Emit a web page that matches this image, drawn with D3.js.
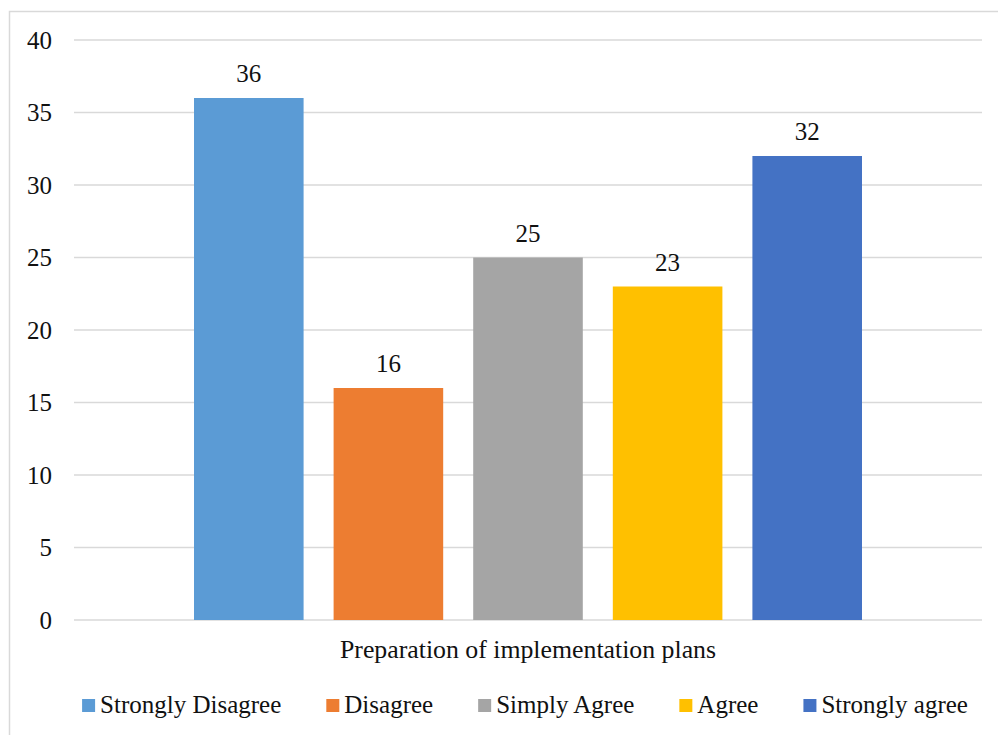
<!DOCTYPE html>
<html>
<head>
<meta charset="utf-8">
<script src="https://cdn.jsdelivr.net/npm/d3@7"></script>
<style>
  body { margin: 0; background: #fff; }
  svg { display: block; font-family: "Liberation Serif", "DejaVu Serif", serif; }
</style>
</head>
<body>
<div id="chart"></div>
<script>
// data
var category = "Preparation of implementation plans";
var series = ["Strongly Disagree", "Disagree", "Simply Agree", "Agree", "Strongly agree"];
var values = [36, 16, 25, 23, 32];
var colors = ["#5B9BD5", "#ED7D31", "#A5A5A5", "#FFC000", "#4472C4"];
var yTicks = [0, 5, 10, 15, 20, 25, 30, 35, 40];

var W = 998, H = 735;
var plot = {left: 74, right: 982, top: 40, bottom: 620};

var svg = d3.select("#chart").append("svg")
    .attr("width", W)
    .attr("height", H);

// chart frame (runs off the right and bottom edges)
svg.append("rect")
    .attr("x", 9.5).attr("y", 11.5)
    .attr("width", 1100).attr("height", 900)
    .attr("fill", "none")
    .attr("stroke", "#D9D9D9")
    .attr("stroke-width", 1.5);

var y = d3.scaleLinear()
    .domain([0, 40])
    .range([plot.bottom, plot.top]);

var x = d3.scaleBand()
    .domain(series)
    .range([194, 862])
    .paddingInner(0.215)
    .paddingOuter(0);

// gridlines
svg.append("g")
  .selectAll("line")
  .data(yTicks)
  .enter().append("line")
    .attr("x1", plot.left).attr("x2", plot.right)
    .attr("y1", function(d) { return y(d); })
    .attr("y2", function(d) { return y(d); })
    .attr("stroke", "#D9D9D9")
    .attr("stroke-width", 1.3);

// y axis labels
var yAxis = svg.append("g")
    .attr("transform", "translate(52,0)")
    .call(d3.axisLeft(y).tickValues(yTicks).tickSize(0).tickPadding(0));
yAxis.attr("font-family", null);
yAxis.select(".domain").remove();
yAxis.selectAll("text")
    .attr("font-size", 25)
    .attr("fill", "#111");

// bars
svg.append("g")
  .selectAll("rect")
  .data(values)
  .enter().append("rect")
    .attr("x", function(d, i) { return x(series[i]); })
    .attr("y", function(d) { return y(d); })
    .attr("width", x.bandwidth())
    .attr("height", function(d) { return y(0) - y(d); })
    .attr("fill", function(d, i) { return colors[i]; });

// data labels
svg.append("g")
  .selectAll("text")
  .data(values)
  .enter().append("text")
    .attr("x", function(d, i) { return x(series[i]) + x.bandwidth() / 2; })
    .attr("y", function(d) { return y(d) - 16; })
    .attr("text-anchor", "middle")
    .attr("font-size", 25)
    .attr("fill", "#111")
    .text(function(d) { return d; });

// category label
svg.append("text")
    .attr("x", (plot.left + plot.right) / 2)
    .attr("y", 658)
    .attr("text-anchor", "middle")
    .attr("font-size", 25.8)
    .attr("fill", "#111")
    .text(category);

// legend
var legend = svg.append("g");
var items = legend.selectAll("g")
    .data(series)
  .enter().append("g");
items.append("rect")
    .attr("width", 13).attr("height", 13)
    .attr("y", 699)
    .attr("fill", function(d, i) { return colors[i]; });
items.append("text")
    .attr("x", 18)
    .attr("y", 713)
    .attr("font-size", 25)
    .attr("fill", "#111")
    .text(function(d) { return d; });

var pos = 0, offsets = [];
items.each(function() {
  offsets.push(pos);
  pos += 18 + d3.select(this).select("text").node().getComputedTextLength() + 45;
});
var total = pos - 45;
var start = 525 - total / 2;
items.attr("transform", function(d, i) { return "translate(" + (start + offsets[i]) + ",0)"; });
</script>
</body>
</html>
